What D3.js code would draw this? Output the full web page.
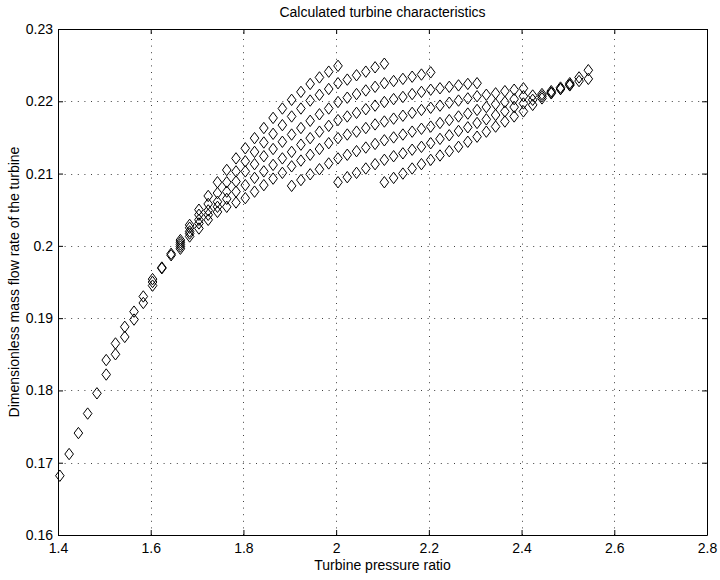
<!DOCTYPE html>
<html>
<head>
<meta charset="utf-8">
<script src="https://cdn.jsdelivr.net/npm/d3@7"></script>
<style>
  body { margin: 0; background: #fff; }
  svg { display: block; font-family: "Liberation Sans", Arial, Helvetica, sans-serif; }
</style>
</head>
<body>
<svg id="chart" width="720" height="580"></svg>
<script>
// Axis ticks and their labels
const xTicks = [1.4, 1.6, 1.8, 2.0, 2.2, 2.4, 2.6, 2.8];
const xTickLabels = ["1.4", "1.6", "1.8", "2", "2.2", "2.4", "2.6", "2.8"];
const yTicks = [0.16, 0.17, 0.18, 0.19, 0.20, 0.21, 0.22, 0.23];
const yTickLabels = ["0.16", "0.17", "0.18", "0.19", "0.2", "0.21", "0.22", "0.23"];

// Pressure-ratio grid shared by all computed series
const pressureGrid = [
  1.404, 1.424, 1.444, 1.464, 1.484, 1.504, 1.524, 1.544, 1.564, 1.584,
  1.604, 1.624, 1.644, 1.664, 1.684, 1.704, 1.724, 1.744, 1.764, 1.784,
  1.804, 1.824, 1.844, 1.864, 1.884, 1.904, 1.924, 1.944, 1.964, 1.984,
  2.004, 2.024, 2.044, 2.064, 2.084, 2.104, 2.124, 2.144, 2.164, 2.184,
  2.204, 2.224, 2.244, 2.264, 2.284, 2.304, 2.324, 2.344, 2.364, 2.384,
  2.404, 2.424, 2.444, 2.464, 2.484, 2.504, 2.524, 2.544
];

// Dimensionless mass flow rate; each series starts at the given grid index
const lowerBranchStart = 0;
const lowerBranch = [0.1682, 0.1712, 0.1741, 0.1768, 0.1796, 0.1822, 0.1850, 0.1874, 0.1898, 0.1921, 0.1945];

const upperBranchStart = 5;
const upperBranch = [0.1842, 0.1865, 0.1888, 0.1909, 0.1930];

const line1Start = 10;
const line1 = [0.1950, 0.1970, 0.1989, 0.2008, 0.2029, 0.2050, 0.2069, 0.2088, 0.2105, 0.2121,
  0.2135, 0.2149, 0.2163, 0.2177, 0.2190, 0.2202, 0.2213, 0.2224, 0.2233, 0.2241, 0.2249];

const line2Start = 10;
const line2 = [0.1954, 0.1969, 0.1987, 0.2005, 0.2025, 0.2043, 0.2058, 0.2073, 0.2088, 0.2103,
  0.2117, 0.2130, 0.2143, 0.2155, 0.2167, 0.2179, 0.2190, 0.2201, 0.2209, 0.2217,
  0.2225, 0.2230, 0.2236, 0.2241, 0.2247, 0.2252];

const line3Start = 13;
const line3 = [0.2002, 0.2020, 0.2036, 0.2049, 0.2061, 0.2075, 0.2089, 0.2103, 0.2113, 0.2124,
  0.2134, 0.2144, 0.2154, 0.2163, 0.2173, 0.2182, 0.2190, 0.2199, 0.2205, 0.2210,
  0.2215, 0.2220, 0.2225, 0.2228, 0.2231, 0.2234, 0.2237, 0.2240];

const line4Start = 13;
const line4 = [0.1999, 0.2017, 0.2031, 0.2043, 0.2054, 0.2065, 0.2075, 0.2084, 0.2094, 0.2103,
  0.2112, 0.2121, 0.2130, 0.2140, 0.2149, 0.2158, 0.2166, 0.2174, 0.2179, 0.2184,
  0.2189, 0.2194, 0.2199, 0.2203, 0.2206, 0.2210, 0.2213, 0.2216, 0.2218, 0.2220,
  0.2222, 0.2224, 0.2225];

const line5Start = 13;
const line5 = [0.1996, 0.2013, 0.2024, 0.2036, 0.2047, 0.2054, 0.2060, 0.2066, 0.2075, 0.2084,
  0.2093, 0.2101, 0.2110, 0.2118, 0.2126, 0.2134, 0.2142, 0.2149, 0.2154, 0.2158,
  0.2163, 0.2168, 0.2172, 0.2176, 0.2180, 0.2184, 0.2188, 0.2191, 0.2194, 0.2198,
  0.2201, 0.2204, 0.2207, 0.2209, 0.2211, 0.2214, 0.2216, 0.2218];

const line6Start = 25;
const line6 = [0.2083, 0.2091, 0.2099, 0.2106, 0.2114, 0.2121, 0.2126, 0.2131, 0.2136, 0.2141,
  0.2146, 0.2150, 0.2154, 0.2158, 0.2162, 0.2165, 0.2170, 0.2174, 0.2179, 0.2183,
  0.2188, 0.2192, 0.2196, 0.2199, 0.2203, 0.2207, 0.2208, 0.2210, 0.2214, 0.2219,
  0.2225, 0.2233, 0.2243];

const line7Start = 30;
const line7 = [0.2088, 0.2095, 0.2101, 0.2107, 0.2113, 0.2119, 0.2124, 0.2128, 0.2133, 0.2137,
  0.2142, 0.2148, 0.2153, 0.2159, 0.2164, 0.2170, 0.2175, 0.2181, 0.2186, 0.2192,
  0.2197, 0.2202, 0.2207, 0.2212, 0.2217, 0.2222, 0.2228, 0.2231];

const line8Start = 35;
const line8 = [0.2088, 0.2094, 0.2100, 0.2107, 0.2113, 0.2119, 0.2125, 0.2131, 0.2137, 0.2144,
  0.2151, 0.2158, 0.2165, 0.2172, 0.2179, 0.2186, 0.2195, 0.2204, 0.2211, 0.2217, 0.2223];

const seriesList = [
  [lowerBranchStart, lowerBranch], [upperBranchStart, upperBranch],
  [line1Start, line1], [line2Start, line2], [line3Start, line3], [line4Start, line4],
  [line5Start, line5], [line6Start, line6], [line7Start, line7], [line8Start, line8]
];

const points = seriesList.flatMap(([start, vals]) =>
  vals.map((v, i) => ({ pr: pressureGrid[start + i], flow: v })));

// Layout
const W = 720, H = 580;
const plot = { left: 58, right: 707, top: 29, bottom: 535 };
const fontSize = 14;

const svg = d3.select("#chart");

const x = d3.scaleLinear().domain([1.4, 2.8]).range([plot.left, plot.right]);
const y = d3.scaleLinear().domain([0.16, 0.23]).range([plot.bottom, plot.top]);

// Dotted grid
const grid = svg.append("g").attr("stroke", "#000").attr("stroke-width", 1)
  .attr("stroke-dasharray", "1,5.6").attr("stroke-opacity", 0.75);
grid.selectAll("line.gx").data(xTicks.slice(1, -1)).join("line")
  .attr("x1", d => Math.round(x(d)) + 0.5).attr("x2", d => Math.round(x(d)) + 0.5)
  .attr("y1", plot.bottom).attr("y2", plot.top);
grid.selectAll("line.gy").data(yTicks.slice(1, -1)).join("line")
  .attr("class", "gy")
  .attr("x1", plot.left).attr("x2", plot.right)
  .attr("y1", d => Math.round(y(d)) + 0.5).attr("y2", d => Math.round(y(d)) + 0.5);

// Axes with inward ticks on all four sides
function styleAxis(g) {
  g.selectAll("path.domain").attr("stroke", "#000");
  g.selectAll(".tick line").attr("stroke", "#000");
  g.selectAll("text").attr("fill", "#000").attr("font-size", fontSize)
    .attr("font-family", '"Liberation Sans", Arial, Helvetica, sans-serif');
}

svg.append("g").attr("transform", `translate(0,${plot.bottom})`)
  .call(d3.axisBottom(x).tickValues(xTicks).tickFormat((d, i) => xTickLabels[i])
    .tickSizeInner(-5).tickSizeOuter(0).tickPadding(8))
  .call(styleAxis);

svg.append("g").attr("transform", `translate(${plot.left},0)`)
  .call(d3.axisLeft(y).tickValues(yTicks).tickFormat((d, i) => yTickLabels[i])
    .tickSizeInner(-5).tickSizeOuter(0).tickPadding(5))
  .call(styleAxis);

svg.append("g").attr("transform", `translate(0,${plot.top})`)
  .call(d3.axisTop(x).tickValues(xTicks).tickFormat("").tickSizeInner(-5).tickSizeOuter(0))
  .call(styleAxis);

svg.append("g").attr("transform", `translate(${plot.right},0)`)
  .call(d3.axisRight(y).tickValues(yTicks).tickFormat("").tickSizeInner(-5).tickSizeOuter(0))
  .call(styleAxis);

// Diamond markers
const hw = 4.3, hh = 5.7;
const diamond = `M0,${-hh}L${hw},0L0,${hh}L${-hw},0Z`;
svg.append("g").selectAll("path").data(points).join("path")
  .attr("d", diamond)
  .attr("transform", d => `translate(${x(d.pr)},${y(d.flow)})`)
  .attr("fill", "none").attr("stroke", "#000").attr("stroke-width", 1);

// Title and axis labels
const cx = (plot.left + plot.right) / 2, cy = (plot.top + plot.bottom) / 2;
svg.append("text").attr("x", cx).attr("y", 17).attr("text-anchor", "middle")
  .attr("font-size", fontSize).text("Calculated turbine characteristics");
svg.append("text").attr("x", cx).attr("y", 570).attr("text-anchor", "middle")
  .attr("font-size", fontSize).text("Turbine pressure ratio");
svg.append("text").attr("transform", `translate(18.5,${cy}) rotate(-90)`)
  .attr("text-anchor", "middle").attr("font-size", fontSize)
  .text("Dimensionless mass flow rate of the turbine");
</script>
</body>
</html>
